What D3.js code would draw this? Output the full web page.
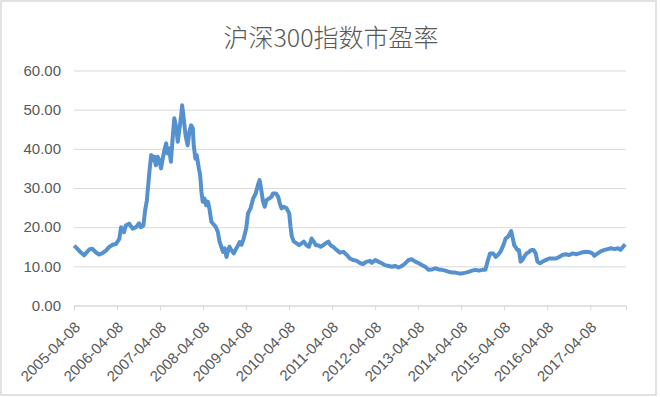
<!DOCTYPE html>
<html>
<head>
<meta charset="utf-8">
<script src="https://cdn.jsdelivr.net/npm/d3@7"></script>
<style>
  body { margin: 0; background: #fff; }
  svg { display: block; }
</style>
</head>
<body>
<script>
var width = 660,
    height = 397;

// time of each reading, in fractional years
var years = [
  2005.27, 2005.34, 2005.42, 2005.50, 2005.54, 2005.62, 2005.69, 2005.77, 2005.85, 2005.93,
  2006.01, 2006.08, 2006.16, 2006.24, 2006.32, 2006.36, 2006.39, 2006.43, 2006.47, 2006.55,
  2006.63, 2006.71, 2006.78, 2006.82, 2006.88, 2006.92, 2006.96, 2007.02, 2007.06, 2007.09,
  2007.13, 2007.17, 2007.21, 2007.25, 2007.29, 2007.33, 2007.37, 2007.41, 2007.44, 2007.48,
  2007.52, 2007.56, 2007.60, 2007.64, 2007.68, 2007.72, 2007.76, 2007.78, 2007.81, 2007.86,
  2007.91, 2007.95, 2007.99, 2008.03, 2008.05, 2008.09, 2008.12, 2008.17, 2008.20, 2008.23,
  2008.26, 2008.30, 2008.34, 2008.38, 2008.42, 2008.46, 2008.49, 2008.56, 2008.61, 2008.65,
  2008.69, 2008.73, 2008.77, 2008.81, 2008.84, 2008.88, 2008.92, 2008.98, 2009.02, 2009.08,
  2009.12, 2009.16, 2009.21, 2009.27, 2009.31, 2009.37, 2009.43, 2009.49, 2009.54, 2009.58,
  2009.62, 2009.66, 2009.70, 2009.74, 2009.80, 2009.86, 2009.89, 2009.96, 2010.01, 2010.05,
  2010.09, 2010.14, 2010.21, 2010.27, 2010.30, 2010.33, 2010.38, 2010.44, 2010.50, 2010.56,
  2010.61, 2010.67, 2010.73, 2010.79, 2010.84, 2010.89, 2010.94, 2011.00, 2011.06, 2011.12,
  2011.18, 2011.23, 2011.29, 2011.37, 2011.45, 2011.53, 2011.61, 2011.68, 2011.76, 2011.84,
  2011.92, 2011.99, 2012.07, 2012.15, 2012.19, 2012.27, 2012.34, 2012.42, 2012.50, 2012.58,
  2012.66, 2012.73, 2012.81, 2012.89, 2012.97, 2013.04, 2013.12, 2013.20, 2013.28, 2013.36,
  2013.43, 2013.51, 2013.59, 2013.67, 2013.74, 2013.82, 2013.90, 2013.98, 2014.06, 2014.13,
  2014.21, 2014.29, 2014.37, 2014.44, 2014.52, 2014.60, 2014.68, 2014.76, 2014.83, 2014.89,
  2014.94, 2015.01, 2015.07, 2015.12, 2015.18, 2015.25, 2015.30, 2015.36, 2015.40, 2015.43,
  2015.46, 2015.50, 2015.53, 2015.57, 2015.61, 2015.65, 2015.69, 2015.73, 2015.79, 2015.85,
  2015.90, 2015.95, 2016.00, 2016.04, 2016.10, 2016.16, 2016.23, 2016.31, 2016.39, 2016.47,
  2016.55, 2016.62, 2016.70, 2016.78, 2016.86, 2016.94, 2017.01, 2017.09, 2017.17, 2017.25,
  2017.32, 2017.36, 2017.44, 2017.52, 2017.60, 2017.67, 2017.75, 2017.83, 2017.91, 2017.97,
  2018.03, 2018.08
];

// PE ratio at those times
var pe = [
  15.3, 14.5, 13.6, 12.8, 13.3, 14.3, 14.5, 13.6, 13.0, 13.4,
  14.0, 14.9, 15.5, 15.7, 17.0, 20.0, 19.6, 18.7, 20.4, 20.9,
  19.6, 20.0, 21.0, 20.0, 20.4, 24.3, 26.8, 34.1, 38.4, 37.1,
  38.0, 35.8, 38.0, 37.1, 35.0, 37.5, 39.7, 41.4, 38.8, 40.1,
  36.7, 42.7, 47.8, 45.6, 41.8, 45.2, 48.6, 51.1, 48.6, 43.5,
  40.9, 44.3, 46.0, 45.2, 40.9, 37.5, 38.4, 35.0, 33.3, 29.0,
  26.5, 27.3, 25.6, 26.5, 24.4, 21.4, 21.0, 20.1, 18.8, 16.3,
  15.0, 13.7, 14.6, 12.4, 13.7, 15.0, 14.2, 13.3, 14.2, 15.4,
  16.2, 15.5, 17.1, 19.7, 23.5, 24.8, 27.3, 28.6, 30.7, 32.0,
  29.5, 26.5, 25.2, 26.9, 27.3, 27.8, 28.6, 28.6, 27.8, 26.1,
  24.8, 25.2, 24.8, 23.5, 20.1, 17.6, 16.3, 15.9, 15.4, 15.9,
  16.3, 15.4, 15.0, 17.1, 16.3, 15.4, 15.4, 15.0, 15.4, 15.9,
  16.3, 15.4, 15.0, 14.2, 13.5, 13.7, 12.9, 12.0, 11.6, 11.4,
  10.8, 10.6, 11.2, 11.4, 10.9, 11.6, 11.2, 10.8, 10.3, 10.1,
  9.9, 10.1, 9.7, 10.1, 10.8, 11.6, 11.8, 11.2, 10.8, 10.3,
  9.9, 9.1, 9.2, 9.5, 9.2, 9.1, 8.9, 8.6, 8.4, 8.4,
  8.2, 8.2, 8.4, 8.6, 8.9, 9.1, 8.9, 9.1, 9.1, 11.6,
  13.3, 13.3, 12.4, 12.9, 13.7, 15.4, 17.1, 17.6, 18.4, 19.0,
  17.6, 15.4, 15.0, 14.2, 14.2, 11.2, 11.6, 12.4, 13.3, 13.7,
  14.2, 14.2, 13.3, 11.2, 10.8, 11.2, 11.6, 12.0, 12.0, 12.0,
  12.4, 12.9, 13.1, 12.9, 13.3, 13.1, 13.3, 13.6, 13.7, 13.6,
  13.3, 12.7, 13.3, 13.9, 14.2, 14.4, 14.6, 14.4, 14.6, 14.2,
  15.0, 15.6
];

var tickLabels = ["2005-04-08", "2006-04-08", "2007-04-08", "2008-04-08", "2009-04-08",
  "2010-04-08", "2011-04-08", "2012-04-08", "2013-04-08", "2014-04-08",
  "2015-04-08", "2016-04-08", "2017-04-08"];
var yTicks = [0, 10, 20, 30, 40, 50, 60];

var title = "沪深300指数市盈率";

// fractional year -> Date
function toDate(v) {
  var y0 = Math.floor(v),
      a = new Date(y0, 0, 1),
      b = new Date(y0 + 1, 0, 1);
  return new Date(+a + (v - y0) * (b - a));
}

var parse = d3.timeParse("%Y-%m-%d");
var data = years.map(function (v, i) {
  return { date: toDate(v), value: pe[i] };
});

var plotLeft = 74, plotRight = 626, plotTop = 70.5, plotBottom = 305.5;

var x = d3.scaleTime()
    .domain([parse("2005-04-08"), parse("2018-02-06")])
    .range([plotLeft, plotRight]);

var y = d3.scaleLinear()
    .domain([0, 60])
    .range([plotBottom, plotTop]);

var svg = d3.select("body").append("svg")
    .attr("width", width)
    .attr("height", height);

// chart frame
svg.append("rect")
    .attr("x", 1)
    .attr("y", 1)
    .attr("width", 655)
    .attr("height", 394)
    .attr("fill", "#fff")
    .attr("stroke", "#d9d9d9")
    .attr("stroke-width", 1.5);

svg.append("text")
    .attr("x", 331)
    .attr("y", 47)
    .attr("text-anchor", "middle")
    .attr("font-family", "'Noto Sans CJK SC', sans-serif")
    .attr("font-weight", 300)
    .attr("font-size", 25)
    .attr("fill", "#595959")
    .text(title);

/* y axis with gridlines */
var yAxis = svg.append("g")
    .attr("transform", "translate(" + plotLeft + ",0)")
    .call(d3.axisLeft(y)
        .tickValues(yTicks)
        .tickSize(-(plotRight - plotLeft))
        .tickPadding(13)
        .tickFormat(d3.format(".2f")));
yAxis.select(".domain").remove();
yAxis.selectAll("line").attr("stroke", "#d9d9d9");
yAxis.selectAll("text")
    .attr("font-family", "'Liberation Sans', Arial, sans-serif")
    .attr("font-size", 15)
    .attr("fill", "#595959");

/* x axis */
var xAxis = svg.append("g")
    .attr("transform", "translate(0," + plotBottom + ")")
    .call(d3.axisBottom(x)
        .tickValues(tickLabels.map(parse))
        .tickSize(5)
        .tickFormat(d3.timeFormat("%Y-%m-%d")));
xAxis.select(".domain").attr("stroke", "#d9d9d9");
xAxis.selectAll("line").attr("stroke", "#d9d9d9");
xAxis.selectAll("text")
    .attr("font-family", "'Liberation Sans', Arial, sans-serif")
    .attr("font-size", 15)
    .attr("fill", "#595959")
    .attr("text-anchor", "end")
    .attr("dy", "0.35em")
    .attr("transform", "translate(3,19) rotate(-45)")
    .attr("y", 0)
    .attr("x", 0);

/* the PE line */
var line = d3.line()
    .x(function (d) { return x(d.date); })
    .y(function (d) { return y(d.value); });

svg.append("path")
    .datum(data)
    .attr("fill", "none")
    .attr("stroke", "#5590cf")
    .attr("stroke-width", 4)
    .attr("stroke-linejoin", "round")
    .attr("d", line);
</script>
</body>
</html>
